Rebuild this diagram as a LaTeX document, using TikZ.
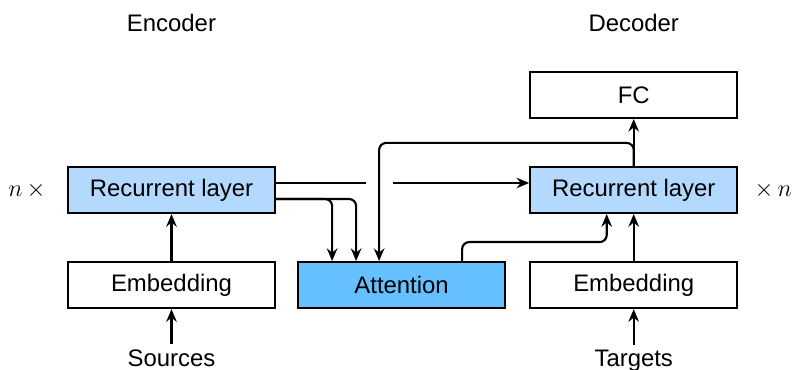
\documentclass[tikz,border=0pt]{standalone}
\usepackage{fontspec}
\setmainfont{Liberation Sans}
\usepackage{xcolor}
\usetikzlibrary{arrows.meta,positioning,calc}

\definecolor{rnnblue}{RGB}{179,217,255}
\definecolor{attblue}{RGB}{102,191,255}

\begin{document}
\begin{tikzpicture}[
        line width=1.5pt,
        block/.style={rectangle,draw=black,fill=white,line width=1.5pt,
                      minimum width=5.175cm,minimum height=1.15cm,
                      font=\fontsize{17}{20}\selectfont},
        layer/.style={block,fill=rnnblue},
        attn/.style={block,fill=attblue},
        lbl/.style={font=\fontsize{17}{20}\selectfont},
        times/.style={font=\fontsize{16}{19}\selectfont},
        arr/.style={line width=1.5pt,-{Stealth[length=9pt,width=7.5pt,inset=3pt]}},
        elbow/.style={arr,rounded corners=5pt}
      ]
      \useasboundingbox (0,0) rectangle (19.8,-9.25);

      % boxes
      \node[layer] (encrnn) at (4.2875,-4.75) {Recurrent layer};
      \node[block] (encemb) [below=1.175cm of encrnn] {Embedding};
      \node[attn]  (att)    [right=0.525cm of encemb] {Attention};
      \node[block] (decemb) [right=0.575cm of att] {Embedding};
      \node[layer] (decrnn) [above=1.175cm of decemb] {Recurrent layer};
      \node[block] (fc)     [above=1.175cm of decrnn] {FC};

      % texts
      \node[lbl,anchor=base] (enclbl) at (encrnn.north |- 0,-0.8) {Encoder};
      \node[lbl,anchor=base] (declbl) at (decrnn.north |- 0,-0.8) {Decoder};
      \node[lbl,anchor=base] (src) at (encemb.south |- 0,-9.17) {Sources};
      \node[lbl,anchor=base] (tgt) at (decemb.south |- 0,-9.17) {Targets};
      \node[times] (nl) at (0.675,-4.75) {$n\,\times$};
      \node[times] (nr) at (19.33,-4.75) {$\times\,n$};

      % straight arrows
      \draw[arr] (src) -- (encemb);
      \draw[arr] (encemb) -- (encrnn);
      \draw[arr] (tgt) -- (decemb);
      \draw[arr] (decemb) -- (decrnn);
      \draw[arr] (decrnn) -- (fc);

      % state passed to decoder, broken where it crosses
      \coordinate (gapl) at (9.15,-4.575);
      \coordinate (gapr) at (9.825,-4.575);
      \draw (encrnn.east |- gapl) -- (gapl);
      \draw[arr] (gapr) -- (decrnn.west |- gapr);

      % encoder outputs into attention
      \draw[elbow] ([yshift=-0.225cm]encrnn.east) -| ([xshift=-1.7375cm]att.north);
      \draw[elbow] ([yshift=-0.225cm]encrnn.east) -| ([xshift=-1.1375cm]att.north);

      % decoder state as query
      \draw[elbow] (decrnn.north) -- ++(0,0.575) -| ([xshift=-0.5625cm]att.north);

      % context into decoder
      \draw[elbow] ([xshift=1.5125cm]att.north) -- ++(0,0.475) -| ([xshift=-0.675cm]decrnn.south);
    \end{tikzpicture}
\end{document}
